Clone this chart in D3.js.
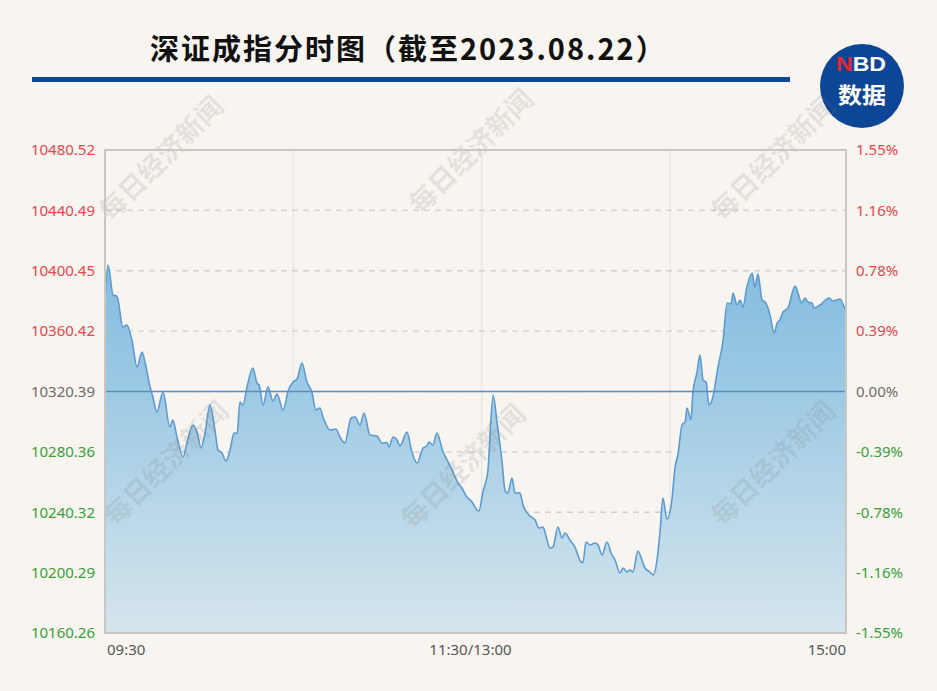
<!DOCTYPE html>
<html><head><meta charset="utf-8">
<script src="https://cdn.jsdelivr.net/npm/d3@7"></script>
<style>body{margin:0;background:#f8f5f0;}svg{display:block}</style>
</head><body>
<svg id="c" width="937" height="691"></svg>
<script>
// ---- data ----
const minutes = [0,1,2.6,3.9,5.8,7.1,8.7,10.4,12.0,13.0,14.6,15.5,16.8,18.8,21.0,22.0,23.3,25.3,26.6,28.5,29.8,31.1,32.4,34.0,35.6,36.6,37.9,39.2,40.5,41.8,42.8,43.7,44.7,46.0,47.9,49.2,49.9,51.2,52.8,54.4,55.7,57.7,59.3,60.9,62.2,63.8,65.4,67.0,68.3,69.6,70.6,72.9,74.8,76.1,77.7,79.7,81.0,82.6,83.9,85.8,88.1,89.7,91.3,92.0,93.3,94.6,95.5,97.8,99.4,101.1,103.0,104.3,104.9,106.2,107.5,109.5,110.8,112.7,114.3,115.6,117.2,118.9,120.5,121.1,122.4,124.0,125.7,127.0,128.6,129.6,130.5,131.8,132.8,134.4,135.4,137.3,139.3,140.6,141.9,142.5,144.1,145.1,146.7,148.0,149.0,150.6,152.2,154.2,154.8,155.8,157.1,158.7,159.7,161.0,162.6,163.9,165.2,166.8,167.8,169.1,170.0,171.0,172.6,173.9,174.9,176.5,177.5,178.8,179.8,180.7,182.0,183.6,184.6,185.6,186.9,187.9,188.5,189.8,190.4,191.7,192.7,193.7,194.7,195.6,196.9,198.5,200.2,201.5,202.8,203.4,204.7,205.7,206.6,207.9,209.6,210.5,211.5,212.8,213.8,215.4,216.7,217.7,218.6,219.6,221.2,223.5,225.7,226.7,227.7,229.0,229.6,231.6,234.5,235.8,238.1,239.4,240];
const prices = [10381.06,10404.27,10384.38,10383.50,10363.16,10364.48,10354.54,10336.63,10346.58,10339.29,10323.37,10316.74,10306.80,10320.06,10296.85,10301.49,10290.22,10276.96,10286.91,10298.18,10293.54,10282.93,10292.87,10311.44,10294.86,10281.60,10279.61,10274.31,10281.60,10292.87,10292.50,10313.43,10311.44,10323.37,10335.97,10326.03,10324.70,10311.44,10323.37,10314.09,10318.73,10308.12,10320.72,10326.69,10328.68,10339.29,10326.69,10320.06,10308.12,10309.45,10303.48,10294.86,10295.53,10290.22,10286.24,10302.82,10303.48,10298.18,10306.13,10291.55,10290.88,10286.24,10286.50,10283.59,10290.22,10288.23,10284.25,10293.54,10280.28,10272.98,10282.93,10284.25,10286.91,10284.92,10292.87,10280.28,10274.97,10267.01,10259.72,10256.40,10250.44,10247.12,10241.82,10241.15,10253.75,10267.68,10318.07,10299.50,10273.64,10254.42,10253.09,10263.04,10253.09,10253.00,10245.13,10238.50,10235.19,10229.88,10230.50,10227.23,10216.62,10217.30,10230.55,10223.25,10226.57,10221.93,10217.28,10207.34,10207.00,10220.60,10218.61,10219.90,10218.60,10211.98,10220.60,10213.31,10208.66,10200.04,10203.36,10200.71,10202.03,10200.71,10214.63,10208.66,10203.36,10200.71,10198.72,10208.66,10228.56,10249.77,10235.85,10248.45,10269.67,10278.95,10298.18,10300.17,10309.45,10301.49,10319.40,10332.66,10344.59,10328.01,10326.69,10311.44,10316.74,10335.97,10354.54,10379.07,10378.50,10385.70,10377.74,10381.06,10376.42,10389.68,10398.96,10389.68,10398.30,10381.06,10379.73,10371.11,10359.18,10365.81,10367.80,10373.10,10375.76,10390.34,10379.07,10382.39,10379.73,10379.07,10375.76,10377.74,10382.39,10380.40,10381.72,10376.42,10374.00];
const prevClose = 10320.39;
const priceTicks = [10160.26,10200.29,10240.32,10280.36,10320.39,10360.42,10400.45,10440.49,10480.52];
const priceTickLabels = ["10160.26","10200.29","10240.32","10280.36","10320.39","10360.42","10400.45","10440.49","10480.52"];
const pctTickLabels = ["-1.55%","-1.16%","-0.78%","-0.39%","0.00%","0.39%","0.78%","1.16%","1.55%"];
const timeLabels = ["09:30","11:30/13:00","15:00"];
const timeLabelMinutes = [0,120,240];
const gridMinutes = [61,122,183];
const titleText = "深证成指分时图（截至2023.08.22）";
const watermarkText = "每日经济新闻";

// ---- drawing ----
const svg = d3.select("#c");
const W = 937, H = 691;
const L = 105, R = 846, T = 150, B = 633;
const x = d3.scaleLinear().domain([0,240]).range([L,R]);
const y = d3.scaleLinear().domain([priceTicks[0], priceTicks[priceTicks.length-1]]).range([B,T]);
const data = minutes.map((m,i)=>({m, v:prices[i]})).filter(d=>d.v!==undefined);

svg.append("rect").attr("width",W).attr("height",H).attr("fill","#f8f5f0");

const defs = svg.append("defs");
const grad = defs.append("linearGradient").attr("id","fillGrad")
  .attr("gradientUnits","userSpaceOnUse").attr("x1",0).attr("x2",0).attr("y1",T).attr("y2",B);
grad.append("stop").attr("offset","0%").attr("stop-color","#6fb0dc");
grad.append("stop").attr("offset","45%").attr("stop-color","#98c7e3");
grad.append("stop").attr("offset","100%").attr("stop-color","#d5e5ed");
defs.append("clipPath").attr("id","plotClip").append("rect")
  .attr("x",L).attr("y",T).attr("width",R-L).attr("height",B-T);

// title
svg.append("text").attr("x",150).attr("y",60)
  .attr("font-family","'Noto Sans CJK SC',sans-serif").attr("font-weight","bold")
  .attr("font-size",29).attr("letter-spacing",2).attr("fill","#111").text(titleText);
svg.append("rect").attr("x",32).attr("y",77).attr("width",758).attr("height",5).attr("fill","#0b4a9b");

// logo
const logo = svg.append("g");
logo.append("circle").attr("cx",862).attr("cy",86).attr("r",42).attr("fill","#0d4597");
const nbd = logo.append("text").attr("x",836).attr("y",71)
  .attr("textLength",50).attr("lengthAdjust","spacingAndGlyphs")
  .attr("font-family","'Liberation Sans',Arial,sans-serif").attr("font-weight","bold").attr("font-size",20);
nbd.append("tspan").attr("fill","#e8262d").text("N");
nbd.append("tspan").attr("fill","#ffffff").text("BD");
logo.append("text").attr("x",838).attr("y",103)
  .attr("textLength",48).attr("lengthAdjust","spacingAndGlyphs")
  .attr("font-family","'Noto Sans CJK SC',sans-serif").attr("font-weight","bold")
  .attr("font-size",22).attr("fill","#ffffff").text("数据");

// plot grid
const g = svg.append("g");
g.selectAll(".vg").data(gridMinutes).join("line")
  .attr("x1",d=>x(d)).attr("x2",d=>x(d)).attr("y1",T).attr("y2",B)
  .attr("stroke","#e9e7e3").attr("stroke-width",1.5);
g.selectAll(".hg").data(priceTicks.slice(1,-1)).join("line")
  .attr("x1",L).attr("x2",R).attr("y1",d=>y(d)).attr("y2",d=>y(d))
  .attr("stroke","#d2d0cc").attr("stroke-width",1.3).attr("stroke-dasharray","6,5");

// area & line
const curve = d3.curveMonotoneX;
const area = d3.area().x(d=>x(d.m)).y0(B).y1(d=>y(d.v)).curve(curve);
const line = d3.line().x(d=>x(d.m)).y(d=>y(d.v)).curve(curve);
const pg = svg.append("g").attr("clip-path","url(#plotClip)");
pg.append("path").datum(data).attr("d",area).attr("fill","url(#fillGrad)");
pg.append("path").datum(data).attr("d",line).attr("fill","none")
  .attr("stroke","#5c9bd1").attr("stroke-width",1.6);

// watermarks
const wmPos = [[160,157],[470,150],[772,157],[165,462],[462,465],[772,462]];
svg.append("g").selectAll("text").data(wmPos).join("text")
  .attr("transform",d=>`translate(${d[0]},${d[1]}) rotate(-45)`)
  .attr("text-anchor","middle").attr("dominant-baseline","central")
  .attr("font-family","'Noto Sans CJK SC',sans-serif").attr("font-weight","bold")
  .attr("font-size",27).attr("fill","rgba(120,120,120,0.16)").text(watermarkText);

// baseline (previous close)
svg.append("line").attr("x1",L).attr("x2",R).attr("y1",y(prevClose)).attr("y2",y(prevClose))
  .attr("stroke","#5a8ec6").attr("stroke-width",1.6);

// frame
svg.append("rect").attr("x",L).attr("y",T).attr("width",R-L).attr("height",B-T)
  .attr("fill","none").attr("stroke","#c9c7c3").attr("stroke-width",2);

// axes labels
const col = v => v>prevClose+0.001 ? "#f0434a" : (v<prevClose-0.001 ? "#3a9e3a" : "#6b6b6b");
const font = "'Noto Sans',sans-serif";
const yAxisL = d3.axisLeft(y).tickValues(priceTicks).tickFormat((d,i)=>priceTickLabels[i]).tickSize(0).tickPadding(10);
const gl = svg.append("g").attr("transform",`translate(${L},0)`).call(yAxisL);
gl.select(".domain").remove();
gl.selectAll("text").attr("font-family",font).attr("font-size",15).attr("fill",d=>col(d));
const yAxisR = d3.axisRight(y).tickValues(priceTicks).tickFormat((d,i)=>pctTickLabels[i]).tickSize(0).tickPadding(10);
const gr = svg.append("g").attr("transform",`translate(${R},0)`).call(yAxisR);
gr.select(".domain").remove();
gr.selectAll("text").attr("font-family",font).attr("font-size",15).attr("fill",d=>col(d));

const anchors = ["start","middle","end"];
svg.append("g").selectAll("text").data(timeLabels).join("text")
  .attr("x",(d,i)=>x(timeLabelMinutes[i]) + (i===0?2:0) - (i===1?5:0))
  .attr("y",655).attr("text-anchor",(d,i)=>anchors[i])
  .attr("font-family",font).attr("font-size",15).attr("fill","#555").text(d=>d);
</script>
</body></html>
